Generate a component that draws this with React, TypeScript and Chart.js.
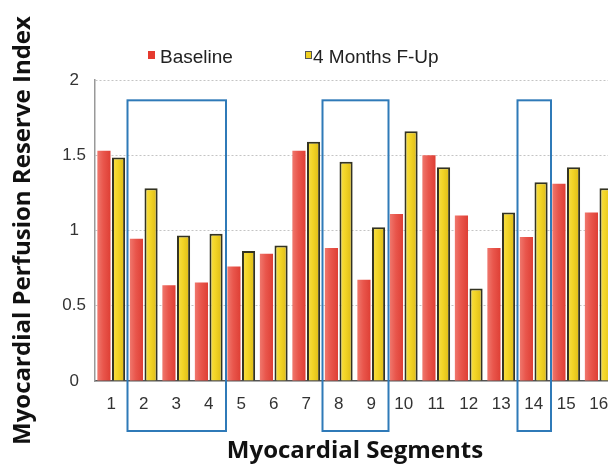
import React, { useEffect, useRef } from "react";
import { Chart, registerables } from "chart.js";

Chart.register(...registerables);

const categories = ["1", "2", "3", "4", "5", "6", "7", "8", "9", "10", "11", "12", "13", "14", "15", "16"];
const baseline = [1.53, 0.945, 0.636, 0.654, 0.76, 0.846, 1.53, 0.883, 0.673, 1.11, 1.5, 1.1, 0.883, 0.956, 1.31, 1.12];
const followUp = [1.485, 1.28, 0.967, 0.978, 0.863, 0.9, 1.59, 1.457, 1.022, 1.66, 1.42, 0.614, 1.12, 1.32, 1.42, 1.28];
const seriesNames = ["Baseline", "4 Months F-Up"];
const yMin = 0;
const yMax = 2;
const yStep = 0.5;
const highlightRanges: [number, number][] = [[2, 4], [8, 9], [14, 14]];
const highlightTopValue = 1.865;

const CAT_PCT = 0.9;
const BAR_PCT = 0.9;

const redStops = ["#ef776d", "#e9564c", "#de3f35"];
const yellowStops = ["#f7e04e", "#f2d425", "#dbb916"];

function gradientFill(stops: string[]) {
  return (ctx: any) => {
    const chart = ctx.chart;
    const xs = chart.scales && chart.scales.x;
    if (!chart.chartArea || !xs || ctx.dataIndex == null) return stops[1];
    const center = xs.getPixelForValue(ctx.dataIndex);
    const cat = xs.width / categories.length;
    const slot = (cat * CAT_PCT) / 2;
    const bx = center + (ctx.datasetIndex - 0.5) * slot;
    const hw = (slot * BAR_PCT) / 2;
    if (!isFinite(bx)) return stops[1];
    const g = chart.ctx.createLinearGradient(bx - hw, 0, bx + hw, 0);
    g.addColorStop(0, stops[0]);
    g.addColorStop(0.45, stops[1]);
    g.addColorStop(1, stops[2]);
    return g;
  };
}

const legendPlugin = {
  id: "customLegend",
  afterDraw(chart: any) {
    const { ctx, chartArea } = chart;
    const offsets = [53, 210];
    const colors = ["#e53a2f", "#f0d020"];
    const borders = ["#e53a2f", "#555"];
    ctx.save();
    ctx.font = "19px 'Liberation Sans', Arial, sans-serif";
    ctx.textBaseline = "middle";
    ctx.textAlign = "left";
    seriesNames.forEach((name, i) => {
      const x = chartArea.left + offsets[i];
      const y = chartArea.top - 24;
      ctx.fillStyle = colors[i];
      ctx.fillRect(x, y - 5, 7, 8);
      ctx.strokeStyle = borders[i];
      ctx.lineWidth = 1;
      ctx.strokeRect(x + 0.5, y - 4.5, 6, 7);
      ctx.fillStyle = "#222";
      ctx.fillText(name, x + (i === 0 ? 12 : 8), y + 2);
    });
    ctx.restore();
  },
};

const highlightPlugin = {
  id: "highlightBoxes",
  afterDraw(chart: any) {
    const { ctx, chartArea } = chart;
    const xs = chart.scales.x;
    const ys = chart.scales.y;
    const cat = xs.width / categories.length;
    const top = ys.getPixelForValue(highlightTopValue);
    const bottom = chartArea.bottom + 50;
    ctx.save();
    ctx.strokeStyle = "#2f7ab8";
    ctx.lineWidth = 2;
    highlightRanges.forEach(([a, b]) => {
      const left = xs.getPixelForValue(a - 1) - cat / 2;
      const right = xs.getPixelForValue(b - 1) + cat / 2 + 1;
      ctx.strokeRect(left, top, right - left, bottom - top);
    });
    ctx.restore();
  },
};

export default function App() {
  const canvasRef = useRef<HTMLCanvasElement | null>(null);

  useEffect(() => {
    if (!canvasRef.current) return;
    const chart = new Chart(canvasRef.current, {
      type: "bar",
      data: {
        labels: categories,
        datasets: [
          {
            label: seriesNames[0],
            data: baseline,
            backgroundColor: gradientFill(redStops),
            borderWidth: 0,
            categoryPercentage: CAT_PCT,
            barPercentage: BAR_PCT,
          },
          {
            label: seriesNames[1],
            data: followUp,
            backgroundColor: gradientFill(yellowStops),
            borderColor: "#333322",
            borderWidth: 2,
            borderSkipped: "bottom",
            categoryPercentage: CAT_PCT,
            barPercentage: BAR_PCT,
          },
        ],
      },
      plugins: [legendPlugin, highlightPlugin],
      options: {
        responsive: false,
        animation: false,
        layout: { padding: { top: 80, right: 10, left: 0, bottom: 0 } },
        plugins: {
          legend: { display: false },
          tooltip: { enabled: false },
        },
        scales: {
          x: {
            grid: { display: false, drawTicks: false },
            border: { display: true, color: "#555", width: 1.5 },
            ticks: {
              color: "#333",
              padding: 13,
              font: { family: "'Liberation Sans', Arial, sans-serif", size: 17 },
              maxRotation: 0,
              autoSkip: false,
            },
            title: {
              display: true,
              text: "Myocardial Segments",
              color: "#111",
              font: { family: "'Open Sans', sans-serif", size: 24, weight: "bold" },
              padding: { top: 0, bottom: 3 },
            },
            afterFit: (s: any) => {
              s.height = 88;
            },
          },
          y: {
            min: yMin,
            max: yMax,
            ticks: {
              stepSize: yStep,
              color: "#333",
              padding: 9,
              crossAlign: "center",
              font: { family: "'Liberation Sans', Arial, sans-serif", size: 17 },
              callback: (v: any) => String(v),
            },
            grid: {
              drawTicks: false,
              color: (c: any) => (c.tick && c.tick.value === 0 ? "rgba(0,0,0,0)" : "#c4c4c4"),
              lineWidth: 1,
            },
            border: { display: true, color: "#999", width: 1.5, dash: [2, 2] },
            title: {
              display: true,
              text: "Myocardial Perfusion Reserve Index",
              color: "#111",
              font: { family: "'Open Sans', sans-serif", size: 24, weight: "bold" },
              padding: { top: 9, bottom: 0 },
            },
            afterFit: (s: any) => {
              s.width = 95;
            },
          },
        },
      },
    });
    return () => chart.destroy();
  }, []);

  return (
    <div style={{ position: "fixed", left: 0, top: 0, width: 608, height: 469, overflow: "hidden", background: "#fff" }}>
      <canvas ref={canvasRef} width={625} height={469} style={{ display: "block" }} />
    </div>
  );
}
